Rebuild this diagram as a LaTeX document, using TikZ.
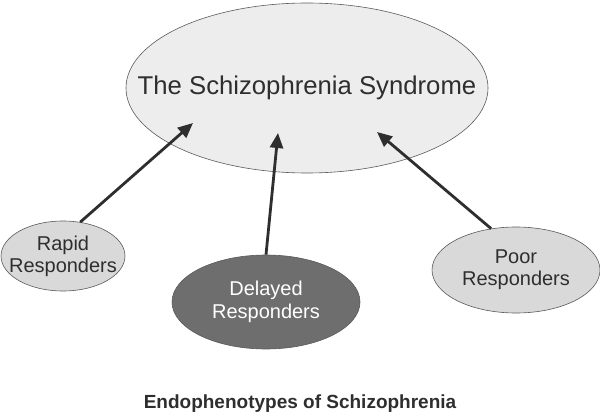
\documentclass[tikz,border=0pt]{standalone}
\usepackage{fontspec}
\setmainfont{Liberation Sans}
\usetikzlibrary{arrows.meta, shapes.geometric}

\definecolor{edgegray}{HTML}{5A5A5A}
\definecolor{inkgray}{HTML}{2E2E2E}
\definecolor{palegray}{HTML}{EDEDED}
\definecolor{lightgray}{HTML}{D9D9D9}
\definecolor{darkgray}{HTML}{6E6E6E}

\begin{document}
\begin{tikzpicture}[x=1pt, y=-1pt, line join=round,
  oval/.style={ellipse, draw=edgegray, line width=0.6pt, inner sep=0pt, align=center,
    text=inkgray, font=\fontsize{20}{22}\selectfont},
  arr/.style={draw=inkgray, line width=2.8pt, -{Triangle[length=15pt, width=13pt]}}]
\useasboundingbox (0,0) rectangle (600,417);
% the three groups feed the syndrome
\node[oval, fill=palegray, minimum width=362pt, minimum height=170pt, inner xsep=-45pt,
  font=\fontsize{25.7}{30}\selectfont] (syn) at (307,88) {The Schizophrenia Syndrome};
\node[oval, fill=lightgray, minimum width=124pt, minimum height=70pt, inner xsep=-12pt] (rapid) at (63,256) {Rapid\\Responders};
\node[oval, fill=darkgray, text=white, minimum width=188pt, minimum height=94pt,
  font=\fontsize{20}{23}\selectfont] (delayed) at (266,302) {Delayed\\Responders};
\node[oval, fill=lightgray, minimum width=168pt, minimum height=86pt] (poor) at (516,270) {Poor\\Responders};
\coordinate (tipA) at (193,123);
\coordinate (tipB) at (278,133);
\coordinate (tipC) at (377,132);
\draw[arr] (rapid.63) -- (tipA);
\draw[arr] (delayed.north) -- (tipB);
\draw[arr] (poor.121) -- (tipC);
\node[text=inkgray, font=\fontsize{19}{22}\selectfont\bfseries] (cap) at (300,404) {Endophenotypes of Schizophrenia};
\end{tikzpicture}
\end{document}
